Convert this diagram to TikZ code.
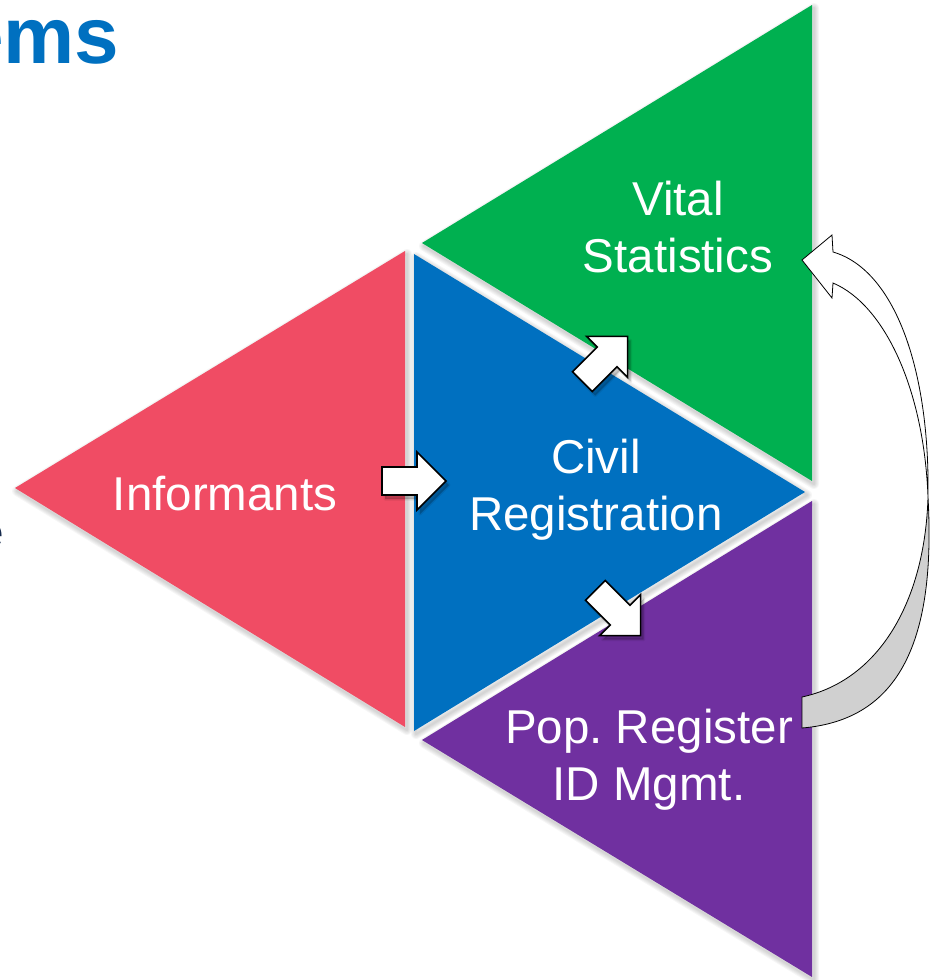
\documentclass[tikz,border=0pt]{standalone}
\usepackage{fontspec}
\setmainfont{Liberation Sans}
\definecolor{cred}{RGB}{240,76,100}
\definecolor{cblue}{RGB}{0,112,192}
\definecolor{cgreen}{RGB}{0,176,80}
\definecolor{cpurple}{RGB}{112,48,160}
\definecolor{ctitle}{RGB}{0,112,192}
\definecolor{cnavy}{RGB}{23,43,77}
\definecolor{cback}{RGB}{208,208,208}
\begin{document}
\frenchspacing
\begin{tikzpicture}[x=1pt,y=-1pt,
  shadowline/.style={draw=black, opacity=0.035, line join=round},
  lbl/.style={text=white, font=\fontsize{47.5}{57}\selectfont\frenchspacing, align=center, inner sep=0pt},
  barrow/.pic={\filldraw[fill=white, draw=black, line width=1.6pt, line join=miter]
     (-32,-14) -- (3,-14) -- (3,-29) -- (32,0) -- (3,29) -- (3,14) -- (-32,14) -- cycle;},
  barrowsh/.pic={\fill[black, opacity=0.22]
     (-32,-14) -- (3,-14) -- (3,-29) -- (32,0) -- (3,29) -- (3,14) -- (-32,14) -- cycle;
     \draw[black, opacity=0.08, line width=3pt, line join=round]
     (-32,-14) -- (3,-14) -- (3,-29) -- (32,0) -- (3,29) -- (3,14) -- (-32,14) -- cycle;},
]
\useasboundingbox (0,0) rectangle (934,980);

% soft shadows of the triangles
\begin{scope}[shift={(2,3)}]
\foreach \w in {2,4,6,8,10}{
  \foreach \ax/\ay/\bx/\by/\cx/\cy in {15/488/405/251/405/727, 414/254/414/731/805/492,
      422/243/812/5/812/481, 422/740/812/501/812/977}{
    \draw[shadowline, line width=\w pt] (\ax,\ay) -- (\bx,\by) -- (\cx,\cy) -- cycle;
  }
}
\end{scope}

% triangles
\fill[cred]    (15,488)  -- (405,251) -- (405,727) -- cycle;
\fill[cblue]   (414,254) -- (414,731) -- (805,492) -- cycle;
\fill[cgreen]  (422,243) -- (812,5)   -- (812,481) -- cycle;
\fill[cpurple] (422,740) -- (812,501) -- (812,977) -- cycle;

% labels
\node[lbl] (inf) at (225,494) {Informants};
\node[lbl] (civ) at (596,490) {Civil\\Registration};
\node[lbl] (vit) at (678,227) {Vital\\Statistics};
\node[lbl] (pop) at (649,760) {Pop. Register\\ID Mgmt.};

% partial texts cut by the frame
\node[anchor=base east, inner sep=0pt, text=ctitle,
      font=\fontsize{80}{90}\selectfont\bfseries] (title) at (119.5,63) {Systems};
\node[anchor=base east, inner sep=0pt, text=cnavy,
      font=\fontsize{44}{50}\selectfont] (etxt) at (4.5,547) {e};

% block arrows
\pic at (417,485) {barrowsh};
\pic at (414,481) {barrow};
\pic[rotate=45] at (608,363) {barrowsh};
\pic[rotate=45] at (605,359) {barrow};
\pic[rotate=-45] at (621,617) {barrowsh};
\pic[rotate=-45] at (618,613) {barrow};

% curved arrow: back (grey) part
\filldraw[fill=cback, draw=black, line width=0.8pt]
  (802,697) .. controls (880,680) and (925,600) .. (928,497)
  .. controls (936,640) and (900,720) .. (802,728) -- cycle;
% curved arrow: front (white) part with head
\filldraw[fill=white, draw=black, line width=0.8pt]
  (802,260) -- (832,235) -- (833,252)
  .. controls (895,270) and (930,370) .. (928,497)
  .. controls (924,390) and (885,305) .. (833,283)
  -- (832,298) -- cycle;
\end{tikzpicture}
\end{document}
